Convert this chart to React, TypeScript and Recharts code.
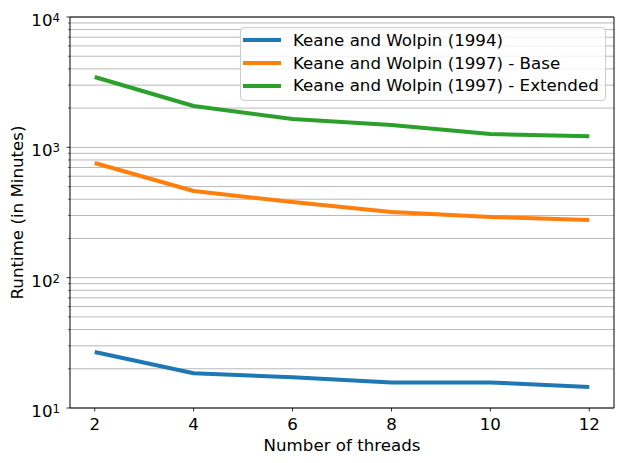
import React from 'react';
import { LineChart, Line, XAxis, YAxis, CartesianGrid, Legend, Label, ReferenceLine } from 'recharts';

const threads = [2, 4, 6, 8, 10, 12];
const kw1994 = [26.9, 18.5, 17.2, 15.7, 15.7, 14.5];
const kw1997Base = [758, 462, 380, 319, 292, 277];
const kw1997Ext = [3467, 2075, 1650, 1483, 1264, 1214];
const seriesNames = [
  'Keane and Wolpin (1994)',
  'Keane and Wolpin (1997) - Base',
  'Keane and Wolpin (1997) - Extended',
];
const seriesKeys = ['kw1994', 'kw1997Base', 'kw1997Ext'];
const seriesColors = ['#1f77b4', '#ff7f0e', '#2ca02c'];
const xTicks = [2, 4, 6, 8, 10, 12];
const xDomain = [1.5, 12.5];
const yDomain = [10, 10000];
const yMajorTicks = [10, 100, 1000, 10000];
const yMinorTicks = [
  20, 30, 40, 50, 60, 70, 80, 90,
  200, 300, 400, 500, 600, 700, 800, 900,
  2000, 3000, 4000, 5000, 6000, 7000, 8000, 9000,
];
const xLabel = 'Number of threads';
const yLabel = 'Runtime (in Minutes)';

const data = threads.map((t, i) => ({
  threads: t,
  kw1994: kw1994[i],
  kw1997Base: kw1997Base[i],
  kw1997Ext: kw1997Ext[i],
}));

const allYTicks = [...yMajorTicks, ...yMinorTicks].sort((a, b) => a - b);
const FONT = '"DejaVu Sans", sans-serif';
const FS = 16.67;

const YTick = (props: any) => {
  const { x, y, payload } = props;
  const v = payload.value;
  const major = yMajorTicks.includes(v);
  if (!major) {
    return <line x1={x - 2} x2={x} y1={y} y2={y} stroke="#000" strokeWidth={0.6} />;
  }
  const exp = Math.round(Math.log10(v));
  return (
    <g>
      <line x1={x - 3.5} x2={x} y1={y} y2={y} stroke="#000" strokeWidth={0.8} />
      <text x={x - 10} y={y + 9} textAnchor="end" fontSize={FS} fontFamily={FONT} fill="#000">
        10
        <tspan dy={-4} fontSize={11.7}>{exp}</tspan>
      </text>
    </g>
  );
};

const LegendBox = () => (
  <div
    style={{
      width: 366,
      height: 74,
      boxSizing: 'border-box',
      border: '1px solid #cccccc',
      borderRadius: 4,
      background: 'rgba(255,255,255,0.8)',
      padding: '1px 0 0 2px',
      fontFamily: FONT,
      fontSize: FS,
      color: '#000',
    }}
  >
    {seriesNames.map((n, i) => (
      <div key={n} style={{ display: 'flex', alignItems: 'center', height: 22.7 }}>
        <svg width={38} height={6} style={{ display: 'block', flex: 'none' }}>
          <line x1={0} x2={38} y1={3} y2={3} stroke={seriesColors[i]} strokeWidth={4} />
        </svg>
        <span style={{ marginLeft: 12, whiteSpace: 'nowrap', lineHeight: '22.7px', position: 'relative', top: 1 }}>{n}</span>
      </div>
    ))}
  </div>
);

export default function App() {
  return (
    <div style={{ position: 'absolute', left: 0, top: 0, width: 623, height: 463, background: '#fff' }}>
      <LineChart
        width={623}
        height={463}
        data={data}
        margin={{ top: 17, right: 9, bottom: 0, left: 10 }}
      >
        <CartesianGrid vertical={false} stroke="#b0b0b0" strokeWidth={0.9} />
        <XAxis
          dataKey="threads"
          type="number"
          domain={xDomain}
          ticks={xTicks}
          height={55}
          tickSize={3.5}
          tickMargin={6.5}
          interval={0}
          axisLine={{ stroke: '#000', strokeWidth: 1 }}
          tickLine={{ stroke: '#000', strokeWidth: 0.8 }}
          tick={{ fontSize: FS, fill: '#000', fontFamily: FONT }}
        >
          <Label
            content={(p: any) => {
              const vb = p.viewBox;
              return (
                <text x={vb.x + vb.width / 2} y={451} textAnchor="middle" fontSize={FS} fontFamily={FONT} fill="#000">
                  {xLabel}
                </text>
              );
            }}
          />
        </XAxis>
        <YAxis
          scale="log"
          type="number"
          domain={yDomain}
          allowDataOverflow
          ticks={allYTicks}
          interval={0}
          width={60}
          tickSize={0}
          tickMargin={0}
          tickLine={false}
          axisLine={{ stroke: '#000', strokeWidth: 1 }}
          tick={<YTick />}
        >
          <Label
            content={(p: any) => {
              const vb = p.viewBox;
              const cy = vb.y + vb.height / 2;
              return (
                <text
                  x={23}
                  y={cy}
                  transform={`rotate(-90 23 ${cy})`}
                  textAnchor="middle"
                  fontSize={FS}
                  fontFamily={FONT}
                  fill="#000"
                >
                  {yLabel}
                </text>
              );
            }}
          />
        </YAxis>
        <ReferenceLine y={yDomain[1]} stroke="#000" strokeWidth={1} ifOverflow="visible" />
        <ReferenceLine x={xDomain[1]} stroke="#000" strokeWidth={1} ifOverflow="visible" />
        {seriesKeys.map((k, i) => (
          <Line
            key={k}
            dataKey={k}
            name={seriesNames[i]}
            type="linear"
            stroke={seriesColors[i]}
            strokeWidth={4}
            strokeLinejoin="round"
            dot={false}
            isAnimationActive={false}
          />
        ))}
        <Legend
          layout="horizontal"
          verticalAlign="middle"
          align="center"
          wrapperStyle={{ left: 240, top: 27, width: 366, height: 74 }}
          content={() => <LegendBox />}
        />
      </LineChart>
    </div>
  );
}
